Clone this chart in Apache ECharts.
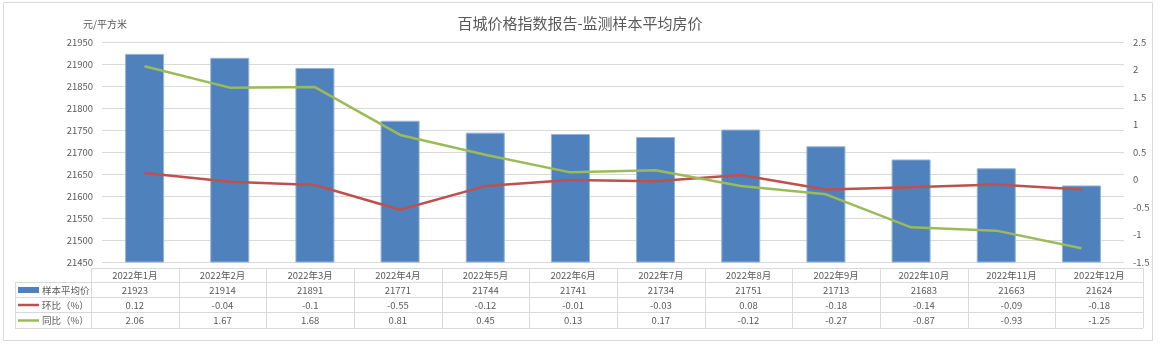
<!DOCTYPE html>
<html><head><meta charset="utf-8">
<script src="https://cdn.jsdelivr.net/npm/echarts@6/dist/echarts.min.js"></script>
<style>html,body{margin:0;padding:0;background:#fff}#c{width:1160px;height:345px}</style>
</head><body><div id="c"></div>
<script>
const categories = ['2022年1月','2022年2月','2022年3月','2022年4月','2022年5月','2022年6月','2022年7月','2022年8月','2022年9月','2022年10月','2022年11月','2022年12月'];
const avgPrice = [21923,21914,21891,21771,21744,21741,21734,21751,21713,21683,21663,21624];
const momPct = [0.12,-0.04,-0.1,-0.55,-0.12,-0.01,-0.03,0.08,-0.18,-0.14,-0.09,-0.18];
const yoyPct = [2.06,1.67,1.68,0.81,0.45,0.13,0.17,-0.12,-0.27,-0.87,-0.93,-1.25];
const seriesNames = ['样本平均价','环比（%）','同比（%）'];
const titleText = '百城价格指数报告-监测样本平均房价';
const unitText = '元/平方米';

const FONT = '"Noto Sans CJK SC", "Noto Sans", sans-serif';
const TXT = '#595959';
const GRID = '#D9D9D9';
const colors = ['#4F81BD','#C0504D','#9BBB59'];

// table layout
const tX0 = 91, tX1 = 1143, tLeft = 15;
const rowY = [268, 282, 297, 312, 328];
const colW = (tX1 - tX0) / categories.length;
const g = [];
g.push({type:'rect', shape:{x:3.5,y:2.5,width:1149,height:338}, style:{fill:'none', stroke:GRID, lineWidth:1}, silent:true});
rowY.forEach((y,i)=>{
  g.push({type:'line', shape:{x1:(i===0?tX0:tLeft), y1:y+0.5, x2:tX1, y2:y+0.5}, style:{stroke:GRID, lineWidth:1}, silent:true});
});
g.push({type:'line', shape:{x1:tLeft+0.5, y1:rowY[1], x2:tLeft+0.5, y2:rowY[4]}, style:{stroke:GRID, lineWidth:1}, silent:true});
for (let i=0;i<=categories.length;i++){
  const x = Math.round(tX0 + i*colW)+0.5;
  g.push({type:'line', shape:{x1:x, y1:rowY[0], x2:x, y2:rowY[4]}, style:{stroke:GRID, lineWidth:1}, silent:true});
}
const rows = [categories, avgPrice, momPct, yoyPct];
rows.forEach((arr, r)=>{
  const yc = (rowY[r]+rowY[r+1])/2 + 0.5;
  arr.forEach((v,i)=>{
    g.push({type:'text', x: tX0 + (i+0.5)*colW, y: yc, silent:true,
      style:{text:String(v), fill:TXT, font:'9.5px '+FONT, textAlign:'center', textVerticalAlign:'middle'}});
  });
});
[1,2,3].forEach(r=>{
  const yc = (rowY[r]+rowY[r+1])/2 + 0.5;
  if (r===1) g.push({type:'rect', shape:{x:18,y:yc-3,width:21,height:6}, style:{fill:colors[0]}, silent:true});
  else g.push({type:'line', shape:{x1:18,y1:yc,x2:39,y2:yc}, style:{stroke:colors[r-1], lineWidth:2.5}, silent:true});
  g.push({type:'text', x:42, y:yc, silent:true, style:{text:seriesNames[r-1], fill:TXT, font:'9.5px '+FONT, textAlign:'left', textVerticalAlign:'middle'}});
});
g.push({type:'text', x:83, y:24, silent:true, style:{text:unitText, fill:TXT, font:'10px '+FONT, textAlign:'left', textVerticalAlign:'middle'}});

const chart = echarts.init(document.getElementById('c'), null, {renderer:'canvas'});
chart.setOption({
  animation:false,
  textStyle:{fontFamily:FONT},
  title:{text:titleText, left:'center', top:11, textStyle:{fontSize:15, fontWeight:'normal', color:TXT, fontFamily:FONT}},
  grid:{left:102, right:36, top:42, bottom:83, containLabel:false},
  xAxis:{type:'category', data:categories, axisLine:{show:false}, axisTick:{show:false}, axisLabel:{show:false}},
  yAxis:[
    {type:'value', min:21450, max:21950, interval:50, axisLine:{show:false}, axisTick:{show:false},
     axisLabel:{color:TXT, fontSize:9.5, margin:9, fontFamily:FONT, formatter:v=>String(v)}, splitLine:{lineStyle:{color:GRID, width:1}}},
    {type:'value', min:-1.5, max:2.5, interval:0.5, axisLine:{show:false}, axisTick:{show:false},
     axisLabel:{color:TXT, fontSize:9.5, margin:9, fontFamily:FONT, formatter:v=>String(v)}, splitLine:{show:false}}
  ],
  series:[
    {name:seriesNames[0], type:'bar', data:avgPrice, barWidth:39, yAxisIndex:0,
     itemStyle:{color:colors[0], borderColor:'#95B3D7', borderWidth:1}},
    {name:seriesNames[1], type:'line', data:momPct, yAxisIndex:1, showSymbol:false, symbol:'none',
     lineStyle:{color:colors[1], width:2.5}, itemStyle:{color:colors[1]}},
    {name:seriesNames[2], type:'line', data:yoyPct, yAxisIndex:1, showSymbol:false, symbol:'none',
     lineStyle:{color:colors[2], width:2.5}, itemStyle:{color:colors[2]}}
  ],
  graphic:g
});
</script></body></html>
